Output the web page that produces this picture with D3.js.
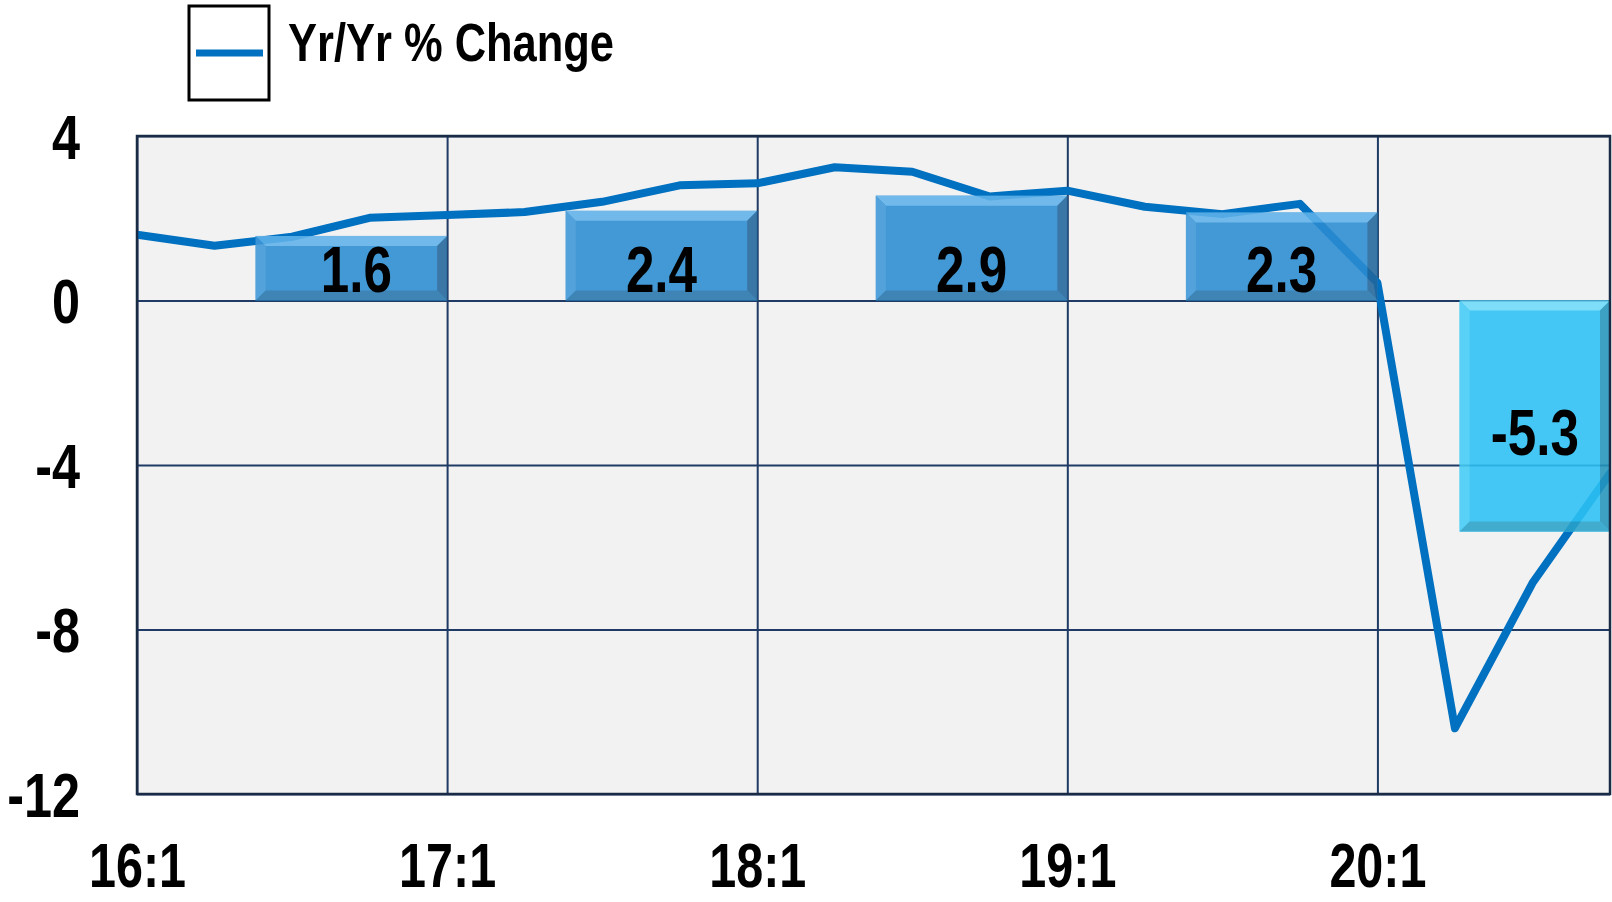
<!DOCTYPE html>
<html>
<head>
<meta charset="utf-8">
<script src="https://cdn.jsdelivr.net/npm/d3@7"></script>
<style>
  html, body { margin: 0; padding: 0; background: #ffffff; }
  svg { display: block; }
  text { font-family: "Liberation Sans", Arial, sans-serif; font-weight: bold; fill: #000; }
</style>
</head>
<body>
<svg id="chart" width="1612" height="902"></svg>
<script>
// ---- data ----
const quarters = ["16:1","16:2","16:3","16:4","17:1","17:2","17:3","17:4",
                  "18:1","18:2","18:3","18:4","19:1","19:2","19:3","19:4",
                  "20:1","20:2","20:3","20:4"];
const yoyChange = [1.6, 1.33, 1.55, 2.01, 2.08, 2.15, 2.4, 2.8,
                   2.85, 3.24, 3.13, 2.53, 2.67, 2.28, 2.1, 2.35,
                   0.43, -10.4, -6.87, -4.2];
const years = ["2016","2017","2018","2019","2020"];
const annualBarHeights = [1.57, 2.18, 2.55, 2.14, -5.62];
const annualLabels = ["1.6","2.4","2.9","2.3","-5.3"];
const yTicks = [-12, -8, -4, 0, 4];
const xTickLabels = ["16:1","17:1","18:1","19:1","20:1"];
const legendLabel = "Yr/Yr % Change";

// ---- layout ----
const plot = { left: 137, right: 1610, top: 136, bottom: 794 };
const lineColor = "#0070C0";
const gridColor = "#1F3A64";

const svg = d3.select("#chart");
const defs = svg.append("defs");

// narrow a text element by fixing its rendered length
function narrowText(sel, factor) {
  sel.each(function () {
    const w = this.getComputedTextLength();
    d3.select(this).attr("textLength", w * factor).attr("lengthAdjust", "spacingAndGlyphs");
  });
}

const x = d3.scaleLinear().domain([0, quarters.length - 1]).range([plot.left, plot.right]);
const y = d3.scaleLinear().domain([-12, 4]).range([plot.bottom, plot.top]);

defs.append("clipPath").attr("id", "plotClip")
  .append("rect").attr("x", plot.left).attr("y", plot.top)
  .attr("width", plot.right - plot.left).attr("height", plot.bottom - plot.top);

// background
svg.append("rect").attr("x", plot.left).attr("y", plot.top)
  .attr("width", plot.right - plot.left).attr("height", plot.bottom - plot.top)
  .attr("fill", "#F2F2F2");

// horizontal gridlines via axis
const yGrid = svg.append("g").attr("transform", `translate(${plot.left},0)`)
  .call(d3.axisLeft(y).tickValues(yTicks).tickSize(-(plot.right - plot.left)).tickFormat(""));
yGrid.select(".domain").remove();
yGrid.selectAll("line").attr("stroke", gridColor).attr("stroke-width", 2);

// vertical gridlines via axis
const qIdx = xTickLabels.map(l => quarters.indexOf(l));
const xGrid = svg.append("g").attr("transform", `translate(0,${plot.bottom})`)
  .call(d3.axisBottom(x).tickValues(qIdx).tickSize(-(plot.bottom - plot.top)).tickFormat(""));
xGrid.select(".domain").remove();
xGrid.selectAll("line").attr("stroke", gridColor).attr("stroke-width", 2);

// line
const line = d3.line().x((d, i) => x(i)).y(d => y(d));
svg.append("path").datum(yoyChange)
  .attr("clip-path", "url(#plotClip)")
  .attr("d", line).attr("fill", "none")
  .attr("stroke", lineColor).attr("stroke-width", 8)
  .attr("stroke-linejoin", "round").attr("stroke-linecap", "round");

// bars (translucent, bevelled)
function barSpan(i) {
  const start = i * 4;
  if (i === years.length - 1) return [x(start + 1.06), plot.right];
  return [x(start + 1.53), x(start + 4)];
}
const barsG = svg.append("g").attr("clip-path", "url(#plotClip)").attr("opacity", 0.88);
annualBarHeights.forEach((v, i) => {
  const [x0, x1] = barSpan(i);
  const yTop = Math.min(y(v), y(0));
  const yBot = Math.max(y(v), y(0));
  const neg = v < 0;
  const base = neg ? "#2DC2F5" : "#2C8DD2";
  const light = neg ? "#6FDBF9" : "#5FB2EA";
  const lightL = neg ? "#44CCF7" : "#3F98D8";
  const dark = neg ? "#2596BE" : "#22679C";
  const darkB = neg ? "#2AA3CB" : "#2675AC";
  const b = 10;
  const g = barsG.append("g");
  g.append("rect").attr("x", x0).attr("y", yTop).attr("width", x1 - x0).attr("height", yBot - yTop).attr("fill", base);
  const poly = pts => g.append("polygon").attr("points", pts.map(p => p.join(",")).join(" "));
  poly([[x0, yTop], [x1, yTop], [x1 - b, yTop + b], [x0 + b, yTop + b]]).attr("fill", light);
  poly([[x0, yTop], [x0 + b, yTop + b], [x0 + b, yBot - b], [x0, yBot]]).attr("fill", lightL);
  poly([[x1, yTop], [x1, yBot], [x1 - b, yBot - b], [x1 - b, yTop + b]]).attr("fill", dark);
  poly([[x0, yBot], [x0 + b, yBot - b], [x1 - b, yBot - b], [x1, yBot]]).attr("fill", darkB);
});

// bar labels
annualLabels.forEach((lab, i) => {
  const [x0, x1] = barSpan(i);
  const v = annualBarHeights[i];
  const cx = (x0 + x1) / 2 + (i === 0 ? 5 : 0);
  const by = v >= 0 ? y(0) - 9 : (y(0) + y(v)) / 2 + 39;
  svg.append("text").text(lab)
    .attr("x", cx).attr("y", by)
    .attr("text-anchor", "middle").attr("font-size", 64)
    .call(narrowText, 0.8);
});

// plot border
svg.append("rect").attr("x", plot.left).attr("y", plot.top)
  .attr("width", plot.right - plot.left).attr("height", plot.bottom - plot.top)
  .attr("fill", "none").attr("stroke", "#1A2B45").attr("stroke-width", 2.5);

// y axis labels
const yAxis = svg.append("g").attr("transform", `translate(${plot.left},0)`)
  .call(d3.axisLeft(y).tickValues(yTicks).tickSize(0).tickPadding(57).tickFormat(d => String(d)));
yAxis.select(".domain").remove();
yAxis.selectAll("text")
  .attr("dy", "0.35em")
  .attr("font-size", 63).attr("font-family", "Liberation Sans, Arial, sans-serif")
  .attr("font-weight", "bold").attr("fill", "#000")
  .call(narrowText, 0.8);

// x axis labels
const xAxis = svg.append("g").attr("transform", `translate(0,${plot.bottom})`)
  .call(d3.axisBottom(x).tickValues(qIdx).tickSize(0).tickFormat(d => quarters[d]));
xAxis.select(".domain").remove();
xAxis.selectAll("text")
  .attr("y", 93).attr("dy", 0)
  .attr("font-size", 63).attr("font-family", "Liberation Sans, Arial, sans-serif")
  .attr("font-weight", "bold").attr("fill", "#000")
  .call(narrowText, 0.77);

// legend
const leg = svg.append("g");
leg.append("rect").attr("x", 189).attr("y", 6).attr("width", 80).attr("height", 94)
  .attr("fill", "#fff").attr("stroke", "#000").attr("stroke-width", 3);
leg.append("line").attr("x1", 196).attr("x2", 263).attr("y1", 53).attr("y2", 53)
  .attr("stroke", lineColor).attr("stroke-width", 7);
leg.append("text").text(legendLabel)
  .attr("x", 288).attr("y", 61)
  .attr("font-size", 53)
  .call(narrowText, 0.82);
</script>
</body>
</html>
